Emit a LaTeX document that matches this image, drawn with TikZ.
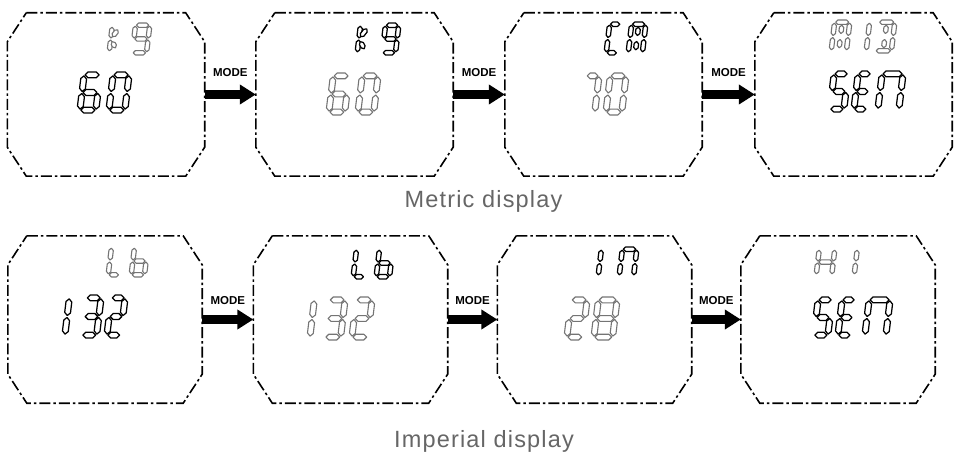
\documentclass[tikz,border=0pt]{standalone}
\usepackage{fontspec}
\setmainfont{Liberation Sans}
\newfontfamily\capfont[LetterSpace=5]{Liberation Sans}
\usetikzlibrary{calc,arrows.meta}
\definecolor{capgray}{HTML}{666666}
\definecolor{lcdgray}{HTML}{747474}
\tikzset{
  boxnode/.style={draw=none, inner sep=0pt, rectangle},
  topbox/.style={boxnode, minimum width=197pt, minimum height=163pt},
  botbox/.style={boxnode, minimum width=194pt, minimum height=167pt},
  boxline/.style={draw=black, line width=1.6pt, dash pattern=on 11pt off 3pt on 2.5pt off 3pt, line join=miter},
  modearrow/.style={draw=black, line width=8.5pt, -{Triangle[length=16pt,width=19pt]}},
  modelabel/.style={font=\bfseries\fontsize{11.5}{12}\selectfont, inner sep=0pt},
  caption/.style={font=\capfont\fontsize{23.5}{26}\selectfont, text=capgray, anchor=base, inner sep=0pt},
  segK/.style={draw=black, fill=white, line width=1.25pt, line join=round},
  segG/.style={draw=lcdgray, fill=white, line width=1.1pt, line join=round},
}
\newcommand\slnt{0.12}
% one segment: style, gap, p1, p2
\newcommand\sg[4]{%
  \path (#3) coordinate (sA) (#4) coordinate (sB);
  \path ($(sA)!#2!(sB)$) coordinate (sP) ($(sB)!#2!(sA)$) coordinate (sQ);
  \path ($(sP)!\segt pt!(sQ)$) coordinate (sP1) ($(sQ)!\segt pt!(sP)$) coordinate (sQ1);
  \draw[#1] (sP) -- ($(sP1)!\segt pt!90:(sQ)$) -- ($(sQ1)!\segt pt!-90:(sP)$) -- (sQ)
     -- ($(sQ1)!\segt pt!90:(sP)$) -- ($(sP1)!\segt pt!-90:(sQ)$) -- cycle;}
\def\SEGa#1{\sg{#1}{1pt}{0,1}{1,1}}
\def\SEGb#1{\sg{#1}{1pt}{1,1}{1,.5}}
\def\SEGc#1{\sg{#1}{1pt}{1,.5}{1,0}}
\def\SEGd#1{\sg{#1}{1pt}{0,0}{1,0}}
\def\SEGe#1{\sg{#1}{1pt}{0,.5}{0,0}}
\def\SEGf#1{\sg{#1}{1pt}{0,1}{0,.5}}
\def\SEGg#1{\sg{#1}{1pt}{0,.5}{1,.5}}
\def\SEGi#1{\sg{#1}{3pt}{.5,1}{.5,.5}}
\def\SEGl#1{\sg{#1}{3pt}{.5,.5}{.5,0}}
\def\SEGu#1{\sg{#1}{3pt}{0,.5}{1,.95}}
\def\SEGv#1{\sg{#1}{3pt}{0,.5}{1,.05}}
% one character: style, x0 (left), y1 (bottom), w, h, segments
\newcommand\ch[6]{%
  \pgfmathsetmacro\segt{#5>36 ? 2.9 : 2.2}%
  \pgfmathsetmacro\skh{#5-2*\segt}%
  \pgfmathsetmacro\skw{#4-2*\segt-\slnt*\skh}%
  \pgfmathsetmacro\ox{#2+\segt}%
  \pgfmathsetmacro\oy{#3-\segt}%
  \pgfmathsetmacro\yx{\slnt*\skh}%
  \begin{scope}[shift={(\ox,\oy)}]
  \begin{scope}[x={(\skw pt,0pt)}, y={(\yx pt,\skh pt)}]
    \foreach \s in {#6} {\csname SEG\s\endcsname{#1}}
  \end{scope}
  \end{scope}}
\newcommand\octa[1]{%
  \draw[boxline] ([xshift=19pt]#1.north west) -- ([xshift=-19pt]#1.north east)
    -- ([yshift=-29pt]#1.north east) -- ([yshift=29pt]#1.south east)
    -- ([xshift=-19pt]#1.south east) -- ([xshift=19pt]#1.south west)
    -- ([yshift=29pt]#1.south west) -- ([yshift=-29pt]#1.north west) -- cycle;}
\begin{document}
\begin{tikzpicture}[x=1pt, y=-1pt]
\useasboundingbox[fill=white] (0,0) rectangle (960,457);
% boxes
\node[topbox] (t1) at (106,94.5) {};
\node[topbox] (t2) at (354.5,94.5) {};
\node[topbox] (t3) at (603.5,94.5) {};
\node[topbox] (t4) at (853.5,94.5) {};
\node[botbox] (b1) at (105,319.5) {};
\node[botbox] (b2) at (350.5,319.5) {};
\node[botbox] (b3) at (594.5,319.5) {};
\node[botbox] (b4) at (838,319.5) {};
\foreach \n in {t1,t2,t3,t4,b1,b2,b3,b4} {\octa{\n}}
% arrows
\draw[modearrow] (t1) -- (t2) node[modelabel, midway, yshift=22pt] {MODE};
\draw[modearrow] (t2) -- (t3) node[modelabel, midway, yshift=22pt] {MODE};
\draw[modearrow] (t3) -- (t4) node[modelabel, midway, yshift=22pt] {MODE};
\draw[modearrow] (b1) -- (b2) node[modelabel, midway, yshift=19pt] {MODE};
\draw[modearrow] (b2) -- (b3) node[modelabel, midway, yshift=19pt] {MODE};
\draw[modearrow] (b3) -- (b4) node[modelabel, midway, yshift=19pt] {MODE};
% captions
\node[caption] (cap1) at (483.5,207) {Metric display};
\node[caption] (cap2) at (484,447) {Imperial display};
% ---- top row characters ----
% box 1: kg (gray) 60 (black)
\ch{segG}{107}{54}{15}{30}{e,f,u,v}
\ch{segG}{130}{55}{22}{32}{a,b,c,d,f,g}
\ch{segK}{77}{113}{26}{41}{a,c,d,e,f,g}
\ch{segK}{106}{113}{26}{41}{a,b,c,d,e,f}
% box 2: kg (black) 60 (gray)
\ch{segK}{355}{55}{16}{32}{e,f,u,v}
\ch{segK}{380}{55}{21}{32}{a,b,c,d,f,g}
\ch{segG}{326}{115}{26}{42}{a,c,d,e,f,g}
\ch{segG}{355}{115}{26}{42}{a,b,c,d,e,f}
% box 3: CM (black) 70 (gray)
\ch{segK}{604}{55}{19}{33}{a,d,e,f}
\ch{segK}{626}{55}{22}{33}{a,b,c,e,f,i,l}
\ch{segG}{579}{115}{23}{42}{a,b,c}
\ch{segG}{603}{115}{26}{42}{a,b,c,d,e,f}
% box 4: MID (gray) SEN (black)
\ch{segG}{829}{53}{23}{33}{a,b,c,e,f,i,l}
\ch{segG}{864}{53}{8}{33}{f,e}
\ch{segG}{873}{53}{24}{33}{a,b,c,d,i,l}
\ch{segK}{827}{112}{24}{41}{a,f,g,c,d}
\ch{segK}{851}{112}{23}{41}{a,f,g,e,d}
\ch{segK}{875}{112}{31}{41}{a,b,c,e,f}
% ---- bottom row characters ----
% box 1: Lb (gray) 132 (black)
\ch{segG}{106}{277}{19}{32}{f,e,d}
\ch{segG}{129}{277}{21}{32}{f,e,d,c,g}
\ch{segK}{62}{338}{9}{43}{f,e}
\ch{segK}{79}{338}{25}{43}{a,b,g,c,d}
\ch{segK}{104}{338}{24}{43}{a,b,g,e,d}
% box 2: Lb (black) 132 (gray)
\ch{segK}{351}{279}{19}{32}{f,e,d}
\ch{segK}{374}{279}{21}{32}{f,e,d,c,g}
\ch{segG}{307}{340}{10}{43}{f,e}
\ch{segG}{322}{340}{26}{43}{a,b,g,c,d}
\ch{segG}{349}{340}{26}{43}{a,b,g,e,d}
% box 3: IN (black) 28 (gray)
\ch{segK}{596}{278}{9}{31}{f,e}
\ch{segK}{617}{278}{22}{31}{a,b,c,e,f}
\ch{segG}{564}{340}{26}{43}{a,b,g,e,d}
\ch{segG}{591}{340}{29}{43}{a,b,c,d,e,f,g}
% box 4: HI (gray) SEN (black)
\ch{segG}{814}{277}{23}{30}{b,c,e,f,g}
\ch{segG}{852}{277}{10}{30}{f,e}
\ch{segK}{811}{338}{24}{41}{a,f,g,c,d}
\ch{segK}{835}{338}{23}{41}{a,f,g,e,d}
\ch{segK}{862}{338}{31}{41}{a,b,c,e,f}
\end{tikzpicture}
\end{document}
